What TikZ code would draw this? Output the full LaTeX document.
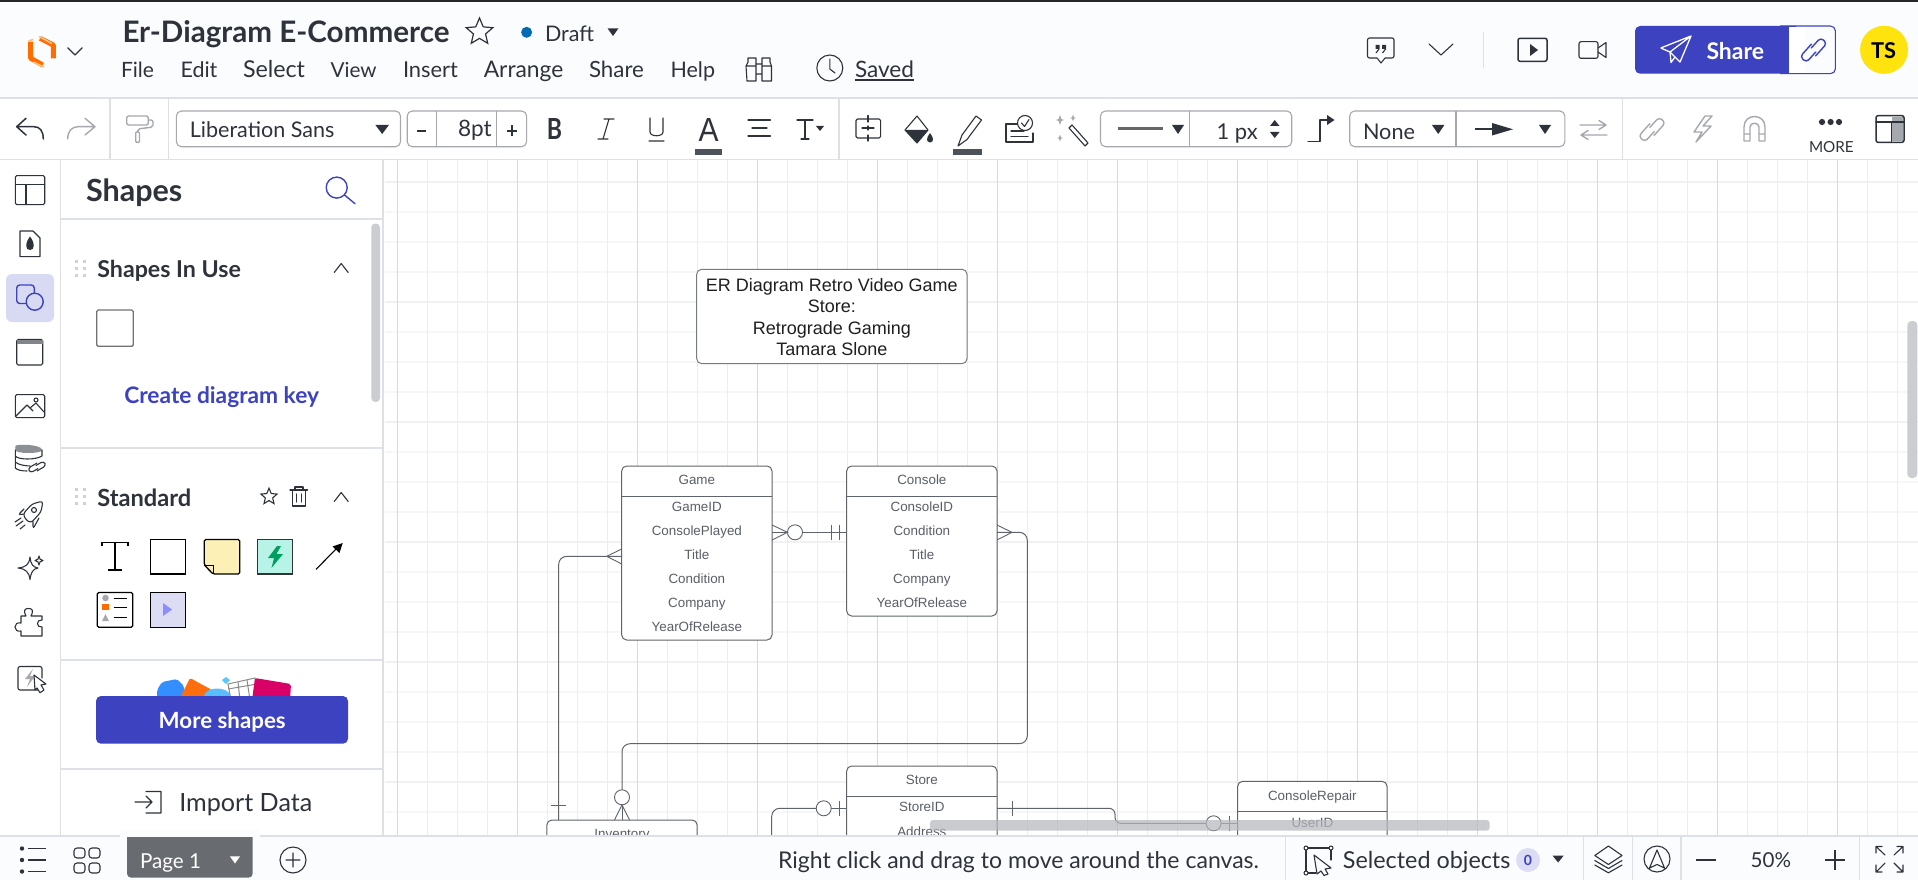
\documentclass[tikz,border=0pt]{standalone}
\usepackage{fontspec}
\usepackage{graphicx}
\setmainfont{Lato}
\newfontfamily\libfont{Liberation Sans}
\usetikzlibrary{shapes.geometric,arrows.meta}
\definecolor{ink}{HTML}{2E333B}
\definecolor{blueui}{HTML}{3D42C1}
\definecolor{headbg}{HTML}{FBFCFE}
\definecolor{sepc}{HTML}{DDE0E6}
\definecolor{grayic}{HTML}{A5A8AE}
\definecolor{erline}{HTML}{5F646C}
\definecolor{ertext}{HTML}{5A5F67}
\definecolor{scrollc}{HTML}{CBCDD2}
\definecolor{scrollt}{HTML}{B5B7BD}
\definecolor{gmin}{HTML}{ECEDEF}
\definecolor{gmaj}{HTML}{D9DADD}
\definecolor{hmin}{HTML}{F7F7F8}
\definecolor{hmaj}{HTML}{F1F1F2}
\tikzset{
  icon/.style={draw=ink,line width=1.5pt,line cap=round,line join=round},
  thinicon/.style={draw=ink,line width=1.1pt,line cap=round,line join=round},
  gicon/.style={draw=grayic,line width=1.4pt,line cap=round,line join=round},
  bicon/.style={draw=blueui,line width=1.4pt,line cap=round,line join=round},
  sepl/.style={draw=sepc,line width=1.2pt},
  uibox/.style={draw=#1,line width=1.1pt,rounded corners=5pt},
  erbox/.style={draw=erline,line width=1pt,rounded corners=5pt,fill=white,minimum width=150.3pt,outer sep=0pt,inner sep=0pt},
  erlink/.style={draw=erline,line width=1pt,rounded corners=8pt},
  ermark/.style={draw=erline,line width=.9pt},
  ercirc/.style={circle,draw=erline,line width=.9pt,fill=white,minimum size=15pt,inner sep=0pt,outer sep=0pt},
  ertxt/.style={text=ertext,anchor=base,font=\libfont\fontsize{13.4pt}{14pt}\selectfont,inner sep=0pt},
  titletxt/.style={text=black!88,anchor=base,font=\libfont\fontsize{18pt}{20pt}\selectfont,inner sep=0pt},
  uitxt/.style={anchor=base west,inner sep=0pt,outer sep=0pt},
}
\newcommand{\UI}[7]{\node[uitxt,text=#5] (#1) at (#2,#3) {\resizebox{#4pt}{!}{#6\ignorespaces #7}};}
\newcommand{\Tri}[5][ink]{\fill[#1] (#2,#4) -- (#3,#4) -- ({(#2+#3)/2},#5) -- cycle;}
\newcommand{\ChevUp}[3]{\draw[thinicon] (#1-7,#3) -- (#1,#2) -- (#1+7,#3);}
\newcommand{\Grip}[3]{\foreach \gx in {0,8} \foreach \gy in {0,#3} \fill[gray!35] (#1+\gx,#2+\gy) rectangle ++(2.6,2.6); \foreach \gx in {0,8} \fill[gray!35] (#1+\gx,#2+#3/2) rectangle ++(2.6,2.6);}
\newcommand{\LinkIcon}[3]{\begin{scope}[shift={(#1,#2)},rotate=48]
\draw[#3,rounded corners=3.6pt] (3,-5.5) -- (-14,-5.5) -- (-14,3) -- (0,3);
\draw[#3,rounded corners=3.6pt] (-3,5.5) -- (14,5.5) -- (14,-3) -- (0,-3);
\end{scope}}
\begin{document}
\begin{tikzpicture}[x=1pt,y=-1pt]
\useasboundingbox (0,0) rectangle (1918,880);
\fill[white] (0,0) rectangle (1918,880);
% ---------- canvas
\begin{scope}
\clip (385,160) rectangle (1918,836);
\foreach \j in {0,...,22}{
  \pgfmathsetmacro\yy{181.7+30*\j}
  \pgfmathtruncatemacro\mm{mod(\j,4)}
  \ifnum\mm=0 \draw[hmaj,line width=1.6pt] (385,\yy) -- (1918,\yy);
  \else \draw[hmin,line width=1.6pt] (385,\yy) -- (1918,\yy); \fi
}
\foreach \i in {0,...,51}{
  \pgfmathsetmacro\xx{397.3+30*\i}
  \pgfmathtruncatemacro\mm{mod(\i,4)}
  \ifnum\mm=0 \draw[gmaj,line width=.8pt] (\xx,160) -- (\xx,836);
  \else \draw[gmin,line width=.8pt] (\xx,160) -- (\xx,836); \fi
}
% title
\node[draw=erline!85,line width=1pt,rounded corners=5pt,fill=white,minimum width=270.3pt,minimum height=94.4pt,inner sep=0pt,outer sep=0pt] (titlebox) at (831.85,316.5) {};
\node[titletxt] (t1) at (831.85,291.5) {ER Diagram Retro Video Game};
\node[titletxt] (t2) at (831.85,312.8) {Store:};
\node[titletxt] (t3) at (831.85,334) {Retrograde Gaming};
\node[titletxt] (t4) at (831.85,355.7) {Tamara Slone};
% entities
\node[erbox,minimum height=174pt] (game) at (696.85,553) {};
\node[erbox,minimum height=150pt] (console) at (921.85,541) {};
\node[erbox,minimum height=300pt] (inventory) at (622,970) {};
\node[erbox,minimum height=300pt] (store) at (921.85,916) {};
\node[erbox,minimum width=149.3pt,minimum height=300pt] (repair) at (1312.35,931.3) {};
\draw[erline,line width=1pt] (game.west |- 0,496.3) -- (game.east |- 0,496.3);
\draw[erline,line width=1pt] (console.west |- 0,496.3) -- (console.east |- 0,496.3);
\draw[erline,line width=1pt] (store.west |- 0,796.3) -- (store.east |- 0,796.3);
\draw[erline,line width=1pt] (repair.west |- 0,811.3) -- (repair.east |- 0,811.3);
\node[ertxt] (gt) at (696.85,484.7) {Game};
\node[ertxt] (g1) at (696.85,511.7) {GameID};
\node[ertxt] (g2) at (696.85,535.7) {ConsolePlayed};
\node[ertxt] (g3) at (696.85,559.7) {Title};
\node[ertxt] (g4) at (696.85,583.7) {Condition};
\node[ertxt] (g5) at (696.85,607.7) {Company};
\node[ertxt] (g6) at (696.85,631.7) {YearOfRelease};
\node[ertxt] (ct) at (921.85,484.7) {Console};
\node[ertxt] (c1) at (921.85,511.7) {ConsoleID};
\node[ertxt] (c2) at (921.85,535.7) {Condition};
\node[ertxt] (c3) at (921.85,559.7) {Title};
\node[ertxt] (c4) at (921.85,583.7) {Company};
\node[ertxt] (c5) at (921.85,607.7) {YearOfRelease};
\node[ertxt] (it) at (622,838) {Inventory};
\node[ertxt] (st) at (921.85,784.7) {Store};
\node[ertxt] (s1) at (921.85,811.7) {StoreID};
\node[ertxt] (s2) at (921.85,836) {Address};
\node[ertxt] (rt) at (1312.35,800) {ConsoleRepair};
\node[ertxt] (r1) at (1312.35,827.3) {UserID};
% Game -- Console
\node[ercirc] (o1) at (795,532.3) {};
\draw[erlink] (game.north east |- o1.west) -- (o1.west);
\draw[erlink] (o1.east) -- (console.north west |- o1.east);
\draw[ermark] (772,525) -- (o1.west) -- (772,540);
\draw[ermark] (831,525) -- (831,540) (839.7,525) -- (839.7,540);
% Game -- Inventory
\coordinate (gk) at (558.7,556.3);
\draw[erlink] (game.north west |- gk) -- (gk) -- (inventory.north -| gk);
\draw[ermark] (621.7,549) -- (606.7,556.3) -- (621.7,564);
\draw[ermark] (551,805) -- (566,805);
% Console -- Inventory
\node[ercirc] (o2) at (622,797.3) {};
\coordinate (ck1) at (1027.3,532.3);
\coordinate (ck2) at (1027.3,743.7);
\draw[erlink] (console.north east |- ck1) -- (ck1) -- (ck2) -- (o2.north |- ck2) -- (o2.north);
\draw[ermark] (997,525) -- (1012,532.3) -- (997,540);
\draw[ermark] (614.5,820) -- (o2.south) -- (629.5,820);
\draw[ermark] (o2.south) -- (inventory.north);
% Store left
\node[ercirc] (o3) at (823.7,808.3) {};
\coordinate (sk) at (771.7,808.3);
\coordinate (se) at (771.7,900);
\draw[erlink] (o3.west) -- (sk) -- (se);
\draw[erlink] (o3.east) -- (store.north west |- o3.east);
\draw[ermark] (839,801) -- (839,816);
% Store -- ConsoleRepair
\node[ercirc] (o4) at (1213.6,823.3) {};
\coordinate (k1) at (1115,808.3);
\coordinate (k2) at (1115,823.3);
\draw[erlink,rounded corners=6pt] (store.north east |- k1) -- (k1) -- (k2) -- (o4.west);
\draw[erlink] (o4.east) -- (repair.north west |- o4.east);
\draw[ermark] (1012.3,801) -- (1012.3,816);
\draw[ermark] (1229,816) -- (1229,831);
% scrollbars
\fill[scrollt,opacity=.72,rounded corners=3pt] (930,820) rectangle (1489.6,830.7);
\fill[scrollc,rounded corners=4pt] (1907.3,321) rectangle (1917.3,478);
\end{scope}
% ---------- header
\fill[headbg] (0,0) rectangle (1918,98);
\fill[black!85] (0,0) rectangle (1918,2);
\draw[sepl] (0,98) -- (1918,98);
\draw[sepl] (0,159.5) -- (1918,159.5);
% logo
\draw[draw=orange!85!red,line width=5pt,line join=bevel] (30.7,41.7) -- (30.7,58.3) -- (42.7,65);
\draw[draw=orange!85!red,line width=5pt,line join=bevel] (40,38.3) -- (53.3,45) -- (53.3,58.3);
\draw[draw=orange!50,line width=1.6pt] (28.5,41) -- (33,39.5) (33,62) -- (44,67) (39,36.5) -- (52,43.5);
\draw[thinicon] (67.7,47.7) -- (75,55) -- (82.3,47.7);
\UI{doctitle}{122.5}{42.7}{327}{ink}{\bfseries}{Er-Diagram E-Commerce}
\node[star,star points=5,star point ratio=2.2,draw=ink,line width=1.2pt,minimum size=28pt,inner sep=0pt] (favstar) at (479.5,32) {};
\fill[blue!40!cyan!70!black] (526.6,32.3) circle[radius=5.5pt];
\UI{draft}{545}{41.7}{49}{ink}{}{Draft}
\Tri{607.5}{618.5}{28.3}{36}
\UI{m1}{121}{77.7}{33}{ink}{}{File}
\UI{m2}{180.6}{77.7}{36.8}{ink}{}{Edit}
\UI{m3}{243}{77.7}{62}{ink}{}{Select}
\UI{m4}{330.7}{77.7}{46}{ink}{}{View}
\UI{m5}{403}{77.7}{55}{ink}{}{Insert}
\UI{m6}{483.8}{77.7}{79.6}{ink}{}{Arrange}
\UI{m7}{589}{77.7}{55}{ink}{}{Share}
\UI{m8}{670.5}{77.7}{44.5}{ink}{}{Help}
% binoculars
\draw[thinicon] (748,62) -- (748,58 ) -- (756,58) -- (756,81) -- (747,81) -- (746,66) -- (748,62) (770,62) -- (770,58) -- (762,58) -- (762,81) -- (771.5,81) -- (771.5,66) -- (770,62) (756,64) -- (762,64) (756,74) -- (762,74) (746,66) -- (756,66) (762,66) -- (771.5,66);
\draw[thinicon] (829.8,68) circle[radius=13pt] (829.8,59) -- (829.8,69) -- (835,73);
\UI{saved}{855}{77.2}{59}{ink}{}{Saved}
\draw[ink,line width=1.1pt] (855,80) -- (914,80);
% header right
\draw[thinicon,rounded corners=2pt] (1367.5,38) rectangle (1394,58);
\fill[white] (1377,57) rectangle (1385,60);
\draw[thinicon] (1377,58) -- (1381,63) -- (1385,58);
\fill[ink] (1375.5,45) rectangle (1379.5,49) (1382,45) rectangle (1386,49);
\draw[ink,line width=1.1pt] (1379,49) -- (1376,53) (1385.5,49) -- (1382.5,53);
\draw[thinicon] (1429,44) -- (1441,55) -- (1453,44);
\draw[sepl] (1483.5,32) -- (1483.5,67.7);
\draw[icon,rounded corners=2pt] (1518,38.3) rectangle (1547,61.3);
\fill[ink] (1530,44) -- (1538,50) -- (1530,56) -- cycle;
\draw[thinicon,rounded corners=2pt] (1579,41.7) rectangle (1598,58.3);
\draw[thinicon] (1598,48) -- (1606,42.5) -- (1606,57.5) -- (1598,52);
\fill[blueui,rounded corners=5pt] (1635,26) rectangle (1800,73.7);
\fill[white] (1789,26.6) rectangle (1805,73.1);
\draw[blueui,line width=1.1pt,rounded corners=5pt] (1780,26) -- (1835.4,26) -- (1835.4,73.7) -- (1780,73.7);
\draw[white,line width=1.3pt,line join=round] (1660.7,48) -- (1691,36) -- (1680,62) -- (1670,52) -- (1660.7,48) (1670,52) -- (1691,36) (1670,52) -- (1671,62.5) -- (1675,57);
\UI{sharebtn}{1706.5}{59.3}{57.5}{white}{\bfseries}{Share}
\LinkIcon{1813.5}{50}{bicon}
\fill[yellow!85!orange!95] (1884,49.8) circle[radius=24pt];
\UI{avatar}{1871}{58.3}{25}{black}{\bfseries}{TS}
% ---------- toolbar
\draw[sepl] (110,98) -- (110,159);
\draw[sepl] (168.5,98) -- (168.5,159);
\draw[sepl] (839,98) -- (839,159);
\draw[sepl] (1622.8,98) -- (1622.8,159);
\draw[icon] (26,118.3) -- (16.7,126.7) -- (26,135) (16.7,126.7) -- (34,126.7) .. controls (40,126.7) and (43.3,131) .. (43.3,139);
\draw[gicon] (85,118.3) -- (95,126.7) -- (85,135) (95,126.7) -- (78,126.7) .. controls (72,126.7) and (67.7,131) .. (67.7,139);
\draw[gicon,rounded corners=2pt] (126.7,116) rectangle (148.3,125);
\draw[gicon,rounded corners=2pt] (148.3,120) -- (153,120) -- (153,127) -- (137.7,129) -- (137.7,132);
\draw[gicon,rounded corners=1pt] (135.7,132) rectangle (139.5,142.3);
\draw[uibox=grayic] (176.4,111) rectangle (400.5,146.7);
\UI{fontname}{189.8}{137}{144.6}{ink}{}{Liberation Sans}
\Tri{375.4}{388.9}{125}{134}
\draw[uibox=grayic] (407.2,111) rectangle (526.6,146.7);
\draw[grayic,line width=1.1pt] (436.6,111) -- (436.6,146.7) (496.6,111) -- (496.6,146.7);
\draw[ink,line width=1.8pt] (417,130.7) -- (426,130.7);
\draw[ink,line width=1.8pt] (507,130.7) -- (517,130.7) (512,125.5) -- (512,136);
\UI{fsize}{458}{137}{33.7}{ink}{}{8pt}
\node[uitxt,text=ink] (bb) at (546.8,139.5) {\resizebox{15.2pt}{21pt}{\bfseries B}};
\draw[thinicon] (604,119) -- (614,119) (598,139) -- (608,139) (609,119) -- (603,139);
\draw[thinicon] (650,118) -- (650,132) .. controls (650,137) and (663,137) .. (663,132) -- (663,118) (649,141) -- (664,141);
\node[uitxt,text=ink] (aa) at (698.5,141) {\resizebox{20pt}{23pt}{\libfont A}};
\fill[ink!85] (695,149) rectangle (722,155);
\draw[thinicon] (748,120) -- (770.4,120) (752,128) -- (767,128) (748,136) -- (770.4,136);
\draw[thinicon] (797,120) -- (813,120) (805,120) -- (805,139) (801,139) -- (809,139);
\Tri{816}{824}{126}{131}
\draw[thinicon,rounded corners=1.5pt] (856,119) rectangle (880.6,138);
\draw[thinicon] (868,115.5) -- (868,122) (868,126) -- (868,130) (868,135) -- (868,141) (862,128) -- (874,128);
\draw[thinicon] (917,116) -- (905,130) -- (917,143) -- (928,130) -- cycle;
\fill[ink] (905,130) -- (917,143) -- (928,130) -- cycle;
\fill[ink] (930,133) .. controls (926,138) and (926,142) .. (930,142.5) .. controls (934,142) and (934,138) .. (930,133) -- cycle;
\draw[thinicon] (958,146) -- (962,135) -- (976,116) -- (981.5,120) -- (967,139.5) -- (958,146);
\fill[ink!85] (953,149) rectangle (981.5,155);
\draw[thinicon] (1027,124) -- (1006,124) -- (1006,142) -- (1033,142) -- (1033,133) (1011,131) -- (1024,131) (1011,136.5) -- (1028,136.5);
\draw[thinicon,fill=white] (1025,123) circle[radius=7.5pt];
\draw[thinicon] (1021.5,123) -- (1024.5,126.5) -- (1029,119.5);
\draw[thinicon] (1069,128) -- (1072,125) -- (1088,143) -- (1085,146) -- cycle;
\foreach \sx/\sy/\ss in {1060/120/5,1073/118/3.5,1060/138/3.5}{
  \fill[grayic] (\sx,\sy-\ss) -- (\sx+\ss*.35,\sy) -- (\sx,\sy+\ss) -- (\sx-\ss*.35,\sy) -- cycle;
  \fill[grayic] (\sx-\ss*.8,\sy) -- (\sx,\sy-\ss*.3) -- (\sx+\ss*.8,\sy) -- (\sx,\sy+\ss*.3) -- cycle;
}
\draw[uibox=grayic] (1100.5,111) rectangle (1291.7,146.7);
\draw[grayic,line width=1.1pt] (1189.7,111) -- (1189.7,146.7);
\draw[black!60,line width=2.6pt] (1117.6,128.7) -- (1162.8,128.7);
\Tri{1172}{1184}{125}{134}
\UI{lw}{1216.6}{139.5}{41}{ink}{}{1 px}
\fill[ink] (1270,126) -- (1279.5,126) -- (1274.7,120) -- cycle (1270,132) -- (1279.5,132) -- (1274.7,138) -- cycle;
\draw[thinicon] (1308,141.7) -- (1320,141.7) -- (1320,120) -- (1328,120);
\fill[ink] (1327,115) -- (1334.5,120) -- (1327,125) -- cycle;
\draw[uibox=grayic] (1349.7,111) rectangle (1564.8,146.7);
\draw[grayic,line width=1.1pt] (1456,111) -- (1456,146.7);
\UI{lnone}{1363}{139.5}{52}{ink}{}{None}
\Tri{1432}{1444.4}{125}{134}
\draw[ink,line width=2.4pt] (1475,129.3) -- (1500,129.3);
\fill[ink] (1492,123) -- (1513,129.3) -- (1492,135.5) -- cycle;
\Tri{1539}{1551}{125}{134}
\draw[gicon] (1580,125) -- (1606,125) (1599,120.5) -- (1606,125) -- (1599,129.5) (1607,135) -- (1581,135) (1588,130.5) -- (1581,135) -- (1588,139.5);
\LinkIcon{1652}{129.5}{gicon}
\draw[gicon] (1705,116) -- (1694,132) -- (1702,132) -- (1696,142) -- (1711,126) -- (1703,126) -- (1712,116) -- cycle;
\draw[gicon] (1744,141) -- (1744,127) .. controls (1744,113) and (1765,113) .. (1765,127) -- (1765,141) -- (1759,141) -- (1759,127) .. controls (1759,122) and (1750,122) .. (1750,127) -- (1750,141) -- cycle (1744,134) -- (1750,134) (1759,134) -- (1765,134);
\foreach \dx in {1822,1830.6,1839} \fill[ink] (\dx,122) circle[radius=3.1pt];
\UI{more}{1809}{152.7}{44.7}{ink}{}{MORE}
\draw[icon,rounded corners=2pt] (1876,115.7) rectangle (1904,142.3);
\fill[grayic] (1892,117) rectangle (1903,141);
\draw[icon] (1876,122) -- (1904,122) (1891.5,122) -- (1891.5,142);
% ---------- left rail + panel
\fill[white] (0,160) rectangle (383,836);
\draw[sepl] (60.7,160) -- (60.7,836);
\draw[sepl] (383,160) -- (383,836);
\draw[sepl] (60.7,219) -- (383,219) (60.7,448) -- (383,448) (60.7,660) -- (383,660) (60.7,769) -- (383,769);
% rail
\draw[thinicon,rounded corners=1.5pt] (15.3,175.6) rectangle (44.7,204.6);
\draw[thinicon] (15.3,184.5) -- (44.7,184.5) (26,184.5) -- (26,204.6);
\draw[thinicon] (20,231) -- (33,231) -- (40,238) -- (40,256.6) -- (20,256.6) -- cycle;
\fill[ink] (30,236.5) .. controls (25,243) and (25,250) .. (30,250) .. controls (35,250) and (35,243) .. (30,236.5) -- cycle;
\fill[blueui!20,rounded corners=6pt] (6,274) rectangle (54,322);
\draw[bicon,rounded corners=3pt] (16.7,285) rectangle (34.3,303.5);
\draw[bicon,fill=blueui!20] (34.7,301.7) circle[radius=8.5pt];
\draw[thinicon,rounded corners=1.5pt] (16.7,339.4) rectangle (42.7,365);
\fill[ink!60] (17,340) rectangle (42.5,343.5);
\draw[thinicon,rounded corners=1.5pt] (15.3,394.6) rectangle (44.7,417.6);
\draw[thinicon] (16,416) -- (27,405) -- (33,411) (30,408) -- (36,403) -- (44,412);
\draw[thinicon] (36,400) circle[radius=2pt];
\fill[ink!55] (15.3,446) .. controls (15.3,444) and (42,444) .. (42,450) .. controls (42,454) and (15.3,454) .. (15.3,450) -- cycle;
\draw[thinicon] (15.3,450) -- (15.3,468) .. controls (17,470) and (22,471) .. (27,471) (15.3,456) .. controls (18,460) and (36,460) .. (42,456) -- (42,450) (15.3,462) .. controls (18,465) and (27,466) .. (30,466);
\begin{scope}[shift={(37,467)},rotate=30,scale=.62]
\draw[thinicon,rounded corners=3pt] (3,-5.5) -- (-14,-5.5) -- (-14,3) -- (0,3);
\draw[thinicon,rounded corners=3pt] (-3,5.5) -- (14,5.5) -- (14,-3) -- (0,-3);
\end{scope}
\draw[thinicon,rounded corners=3pt] (26,520) -- (23,514) -- (32,504) -- (43,501) -- (41,512) -- (31,523) -- cycle (24,514) -- (18,515) -- (24,509) (33,522) -- (33,529) -- (39,518);
\draw[thinicon] (34,510) circle[radius=2.5pt];
\draw[thinicon] (15,522) -- (21,518) (16,526) -- (23,521) (20,529) -- (25,525);
\draw[thinicon] (30,557) .. controls (31,565) and (33,567) .. (38,568) .. controls (33,569) and (31,572) .. (30,579.5) .. controls (29,572) and (26,569) .. (18,568) .. controls (26,567) and (29,565) .. (30,557) -- cycle (39,556) .. controls (39.5,559) and (40,560) .. (43,560.5) .. controls (40,561) and (39.5,562) .. (39,565) .. controls (38.5,562) and (38,561) .. (35,560.5) .. controls (38,560) and (38.5,559) .. (39,556) -- cycle;
\draw[thinicon] (21,616) -- (26,616) .. controls (23,610) and (25,608.5) .. (28.5,608.5) .. controls (32,608.5) and (34,610) .. (31,616) -- (42,616) -- (42,620) .. controls (36,619) and (36,628) .. (42,627) -- (42,636) -- (21,636) -- (21,631) .. controls (13,633) and (13,621) .. (21,623) -- cycle;
\draw[thinicon,rounded corners=2pt] (42,690) -- (18,690) -- (18,666.5) -- (42,666.5) -- (42,678);
\fill[grayic] (33,669) -- (25,679) -- (30,679) -- (27,687) -- (35,676) -- (30,676) -- cycle;
\draw[thinicon,fill=white] (34,675) -- (46,684) -- (41,685) -- (44,690) -- (40,692.7) -- (37,688) -- (35,690) -- cycle;
% panel
\UI{shapesh}{86}{201.5}{96.3}{ink}{\bfseries}{Shapes}
\draw[bicon] (336.7,187.6) circle[radius=10.5pt] (344.5,195) -- (355,203.7);
\Grip{75}{260}{14}
\UI{inuse}{97.3}{277.8}{143.7}{ink}{\bfseries}{Shapes In Use}
\ChevUp{341.2}{263.5}{272.5}
\draw[draw=black!55,line width=1.3pt,rounded corners=1.5pt] (96.7,310) rectangle (133.3,346.3);
\UI{keylink}{124.3}{403}{194.7}{blueui}{\bfseries}{Create diagram key}
\fill[scrollc,rounded corners=4pt] (371.3,223.5) rectangle (380,402);
\Grip{75}{488}{14}
\UI{stdh}{97.3}{506}{94}{ink}{\bfseries}{Standard}
\node[star,star points=5,star point ratio=2.2,draw=ink,line width=1.1pt,minimum size=17pt,inner sep=0pt] (favstd) at (269,496.7) {};
\draw[thinicon] (290,490) -- (307.5,490) (295,490) -- (295,487) -- (303,487) -- (303,490) (292.5,490) -- (292.5,506) -- (305.5,506) -- (305.5,490) (296.5,494) -- (296.5,502) (301.5,494) -- (301.5,502);
\ChevUp{341.2}{492.5}{501.5}
% shape palette
\draw[black,line width=1.3pt] (102,542.5) -- (128,542.5) (115,542.5) -- (115,570) (108,570) -- (122,570) (102,542) -- (102,546) (128,542) -- (128,546);
\draw[black,line width=1.3pt,fill=white] (150.3,539.5) rectangle (185.7,574);
\definecolor{notec}{HTML}{FCF0B6}
\definecolor{quickc}{HTML}{B8F3E8}
\draw[black,line width=1.3pt,fill=notec,rounded corners=1.5pt] (204.3,539.5) -- (239.7,539.5) -- (239.7,574) -- (213,574) -- (204.3,565) -- cycle;
\draw[black,line width=1pt] (204.3,565) -- (213,565) -- (213,574);
\draw[black!80,line width=1.3pt,fill=quickc] (257.3,539.5) rectangle (292.7,574);
\fill[teal!75!green] (277,546) -- (268,558) -- (274,558) -- (271.5,568) -- (283,554) -- (276.5,554) -- (281,546) -- cycle;
\draw[black,line width=1.1pt] (316,569.4) -- (336,549);
\fill[black] (342.7,543) -- (339.5,553) -- (332.5,546.5) -- cycle;
\draw[black,line width=1.3pt,rounded corners=1.5pt] (97.3,592.4) rectangle (132.7,627.3);
\fill[grayic] (105.5,598) circle[radius=3.3pt];
\fill[orange!85!red] (102,604) rectangle (109,610);
\fill[grayic] (102,621) -- (109,621) -- (105.5,614) -- cycle;
\draw[black,line width=1pt] (113.5,598) -- (127,598) (113.5,607) -- (127,607) (113.5,617) -- (127,617);
\draw[black,line width=1.3pt,fill=blueui!18] (150.3,592.4) rectangle (185.7,627.3);
\fill[blue!45!white] (163,603) -- (172,609.5) -- (163,616) -- cycle;
% more shapes cards
\fill[blue!55!cyan!80,rounded corners=2pt] (157,690) -- (162,682) -- (177,679) -- (184,686) -- (184,700) -- (157,700) -- cycle;
\fill[orange!80!red!95,rounded corners=2pt] (179,700) -- (190,678) -- (212,690) -- (212,700) -- cycle;
\fill[cyan!65] (222,680) -- (226,677) -- (230,680) -- (226,684) -- cycle;
\fill[blue!40!cyan!65] (204,696) .. controls (206,686) and (228,686) .. (231,696) -- cycle;
\draw[draw=black!45,line width=1pt,fill=white] (228,684) -- (255,678) -- (258,700) -- (231,700) -- cycle;
\draw[draw=black!45,line width=1pt] (228,689) -- (257,684) (238,682) -- (240,700) (247,680) -- (250,700);
\fill[red!70!magenta!85!blue,rounded corners=2pt] (255,678) -- (291,684) -- (290,700) -- (252,700) -- cycle;
\fill[blueui,rounded corners=5pt] (96,696) rectangle (348,743.7);
\UI{moreshapes}{158.7}{728}{127}{white}{\bfseries}{More shapes}
\draw[thinicon] (135,802) -- (152,802) (146,796) -- (152,802) -- (146,808) (146,791.5) -- (161,791.5) -- (161,813) -- (146,813);
\UI{importd}{179.3}{811}{133}{ink}{}{Import Data}
% ---------- bottom bar
\fill[headbg] (0,836) rectangle (1918,880);
\draw[sepl] (0,836) -- (1918,836);
\foreach \ly in {848.5,860,871.5}{ \fill[ink] (22,\ly) circle[radius=2.2pt]; \draw[ink,line width=1.2pt] (28,\ly) -- (46,\ly); }
\draw[thinicon,rounded corners=3pt] (74,848) rectangle (85,858) (89,848) rectangle (100,858) (74,863) rectangle (85,873) (89,863) rectangle (100,873);
\definecolor{tabc}{HTML}{686B70}
\fill[tabc,rounded corners=4pt] (127,830) rectangle (252.7,877.6);
\fill[headbg] (120,830) rectangle (260,836.6);
\UI{pagetab}{140}{868}{61}{white}{}{Page 1}
\Tri[white]{230}{240}{856.4}{863.5}
\draw[thinicon] (293,860) circle[radius=13pt] (286,860) -- (300,860) (293,853) -- (293,867);
\UI{hint}{778}{868.2}{481}{ink}{}{Right click and drag to move around the canvas.}
\draw[sepl] (1285.7,836) -- (1285.7,880);
\draw[thinicon] (1306,873) -- (1306,848) -- (1331,848) -- (1331,860) (1306,873) -- (1316,873);
\foreach \px/\py in {1306/848,1331/848,1306/873}{ \draw[ink,line width=1pt,fill=headbg] (\px,\py) circle[radius=2pt]; }
\draw[thinicon,fill=headbg] (1314,855) -- (1331,868) -- (1325,869) -- (1328,874) -- (1324,875.5) -- (1321,871) -- (1317,874) -- cycle;
\UI{selobj}{1342.9}{868.7}{167.5}{ink}{}{Selected objects}
\fill[blueui!18] (1528,860) circle[radius=12pt];
\node[text=blueui,font=\bfseries\fontsize{14pt}{14pt}\selectfont,inner sep=0pt] (selcount) at (1528,860) {0};
\Tri{1552.6}{1563.6}{855.7}{862.5}
\draw[sepl] (1583.8,836) -- (1583.8,880);
\draw[thinicon] (1608.4,846) -- (1622,855.5) -- (1608.4,864.5) -- (1594.8,855.5) -- cycle (1594.8,860.5) -- (1608.4,868.5) -- (1622,860.5) (1594.8,865) -- (1608.4,872.8) -- (1622,865);
\draw[sepl] (1632.5,836) -- (1632.5,880);
\draw[thinicon] (1657,859) circle[radius=13pt] (1649.5,868) -- (1657,850) -- (1664.5,868) -- (1657,864.5) -- cycle;
\draw[sepl] (1681,836) -- (1681,880);
\draw[ink,line width=1.8pt] (1695.5,860) -- (1716,860);
\UI{zoomv}{1750.6}{867.2}{40.4}{ink}{}{50\%}
\draw[ink,line width=1.8pt] (1825,860) -- (1845,860) (1835,850) -- (1835,870);
\draw[sepl] (1859.7,836) -- (1859.7,880);
\draw[thinicon] (1876,853) -- (1876,846.5) -- (1882,846.5) (1876,846.5) -- (1885,855) (1903,853) -- (1903,846.5) -- (1897,846.5) (1903,846.5) -- (1894,855) (1876,865) -- (1876,872) -- (1882,872) (1876,872) -- (1885,863) (1903,865) -- (1903,872) -- (1897,872) (1903,872) -- (1894,863);
\end{tikzpicture}
\end{document}
